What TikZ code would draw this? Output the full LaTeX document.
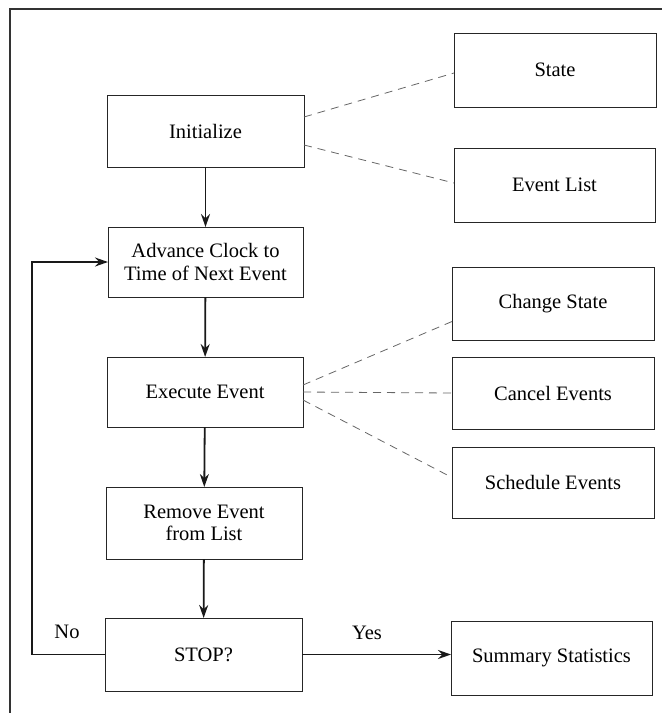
\documentclass[tikz,border=0pt]{standalone}
\usepackage{fontspec}
\setmainfont{Liberation Serif}
\usetikzlibrary{arrows.meta,calc}

\begin{document}
\begin{tikzpicture}[x=1pt, y=-1pt, >=Stealth,
    font=\fontsize{20.5}{22.5}\selectfont,
    box/.style={draw=black!85, line width=0.9pt, minimum width=#1,
                minimum height=72pt, inner sep=0pt, outer sep=0pt, align=center},
    flow/.style={line width=1.8pt, black!90,
                 -{Stealth[length=13pt, width=9pt]}},
    link/.style={draw=black!60, line width=0.8pt, dash pattern=on 8pt off 6pt}]
  \useasboundingbox (0,0) rectangle (662,713);
  %% Frame
  \draw[line width=1.2pt, black!80] (10,713) -- (10,9) -- (662,9);
  %% Main flow
  \node[box=197pt] (init) at (205.5,131) {Initialize};
  \node[box=195pt, minimum height=70pt] (adv) at (205.5,262)
    {Advance Clock to\\Time of Next Event};
  \node[box=196pt, minimum height=70pt] (exe) at (205,392) {Execute Event};
  \node[box=196pt] (rem) at (204,523) {Remove Event\\from List};
  \node[box=197pt, minimum height=73pt] (stop) at (203.5,654.5) {STOP?};
  %% Side boxes
  \node[box=202pt, minimum height=74pt] (state)  at (555,70)    {State};
  \node[box=201pt, minimum height=74pt] (evlist) at (554.5,185) {Event List};
  \node[box=202pt, minimum height=73pt] (chg)    at (553,303.5) {Change State};
  \node[box=202pt] (cancel) at (553,393)   {Cancel Events};
  \node[box=202pt, minimum height=71pt] (sched)  at (553,482.5) {Schedule Events};
  \node[box=201pt, minimum height=74pt] (summ)   at (551.5,658) {Summary Statistics};
  %% Arrows
  \draw[flow] (init) -- (adv);
  \draw[flow] (adv) -- (exe);
  \draw[flow] (exe) -- (rem);
  \draw[flow] (rem) -- (stop);
  \draw[flow] (stop.east) -- (stop.east -| summ.west);
  \coordinate (back) at (32,0);
  \draw[flow] (stop.west) -- (stop.west -| back) |- (adv.west);
  %% Dashed links
  \draw[link] ([yshift=14pt]init.east)  -- ([yshift=-3pt]state.west);
  \draw[link] ([yshift=-14pt]init.east) -- ([yshift=2pt]evlist.west);
  \draw[link] ([yshift=7pt]exe.east)    -- ([yshift=-18pt]chg.west);
  \draw[link] (exe.east)                -- (cancel.west);
  \draw[link] ([yshift=-8pt]exe.east)   -- ([yshift=5pt]sched.west);
  %% Labels
  \node (no)  at (67,632)  {No};
  \node (yes) at (367,633) {Yes};
\end{tikzpicture}
\end{document}
